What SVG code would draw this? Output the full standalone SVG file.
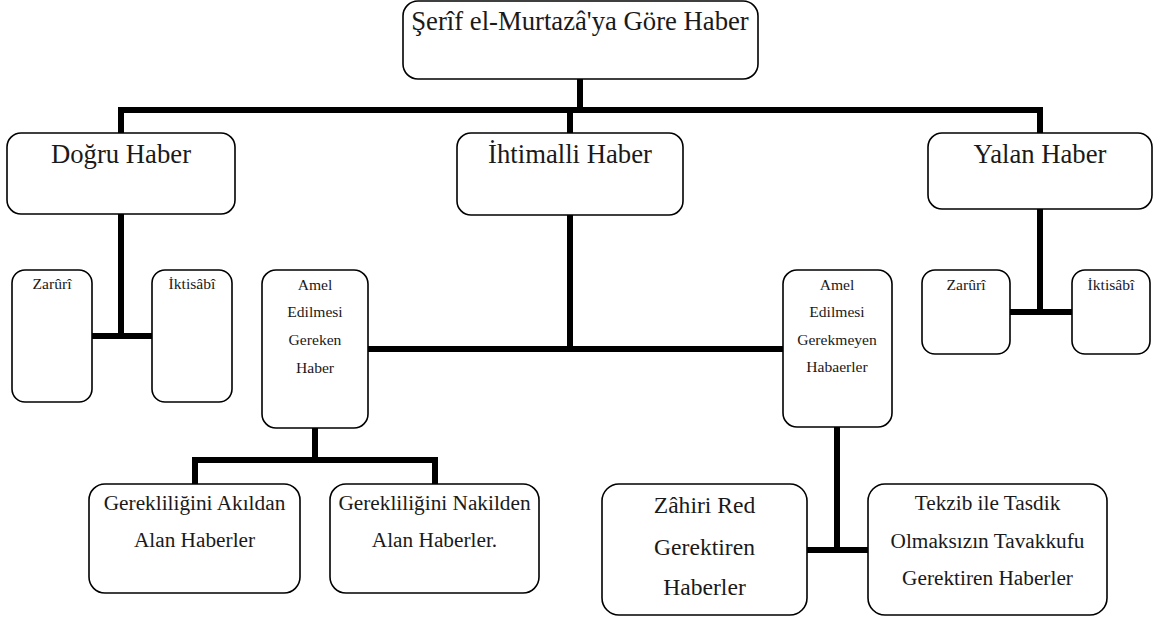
<svg xmlns="http://www.w3.org/2000/svg" width="1158" height="620" viewBox="0 0 1158 620">
<style>
.box{fill:#fff;stroke:#000;stroke-width:1.6}
.t{font-family:'Liberation Serif','DejaVu Serif',serif;fill:#1a1a1a;text-anchor:middle}
.xl{font-size:26.7px}
.l{font-size:23.6px}
.m{font-size:21.3px}
.s{font-size:15.6px}
.c{fill:none;stroke:#000;stroke-width:6;stroke-linejoin:miter;stroke-linecap:butt}
</style>
<rect width="1158" height="620" fill="#fff"/>
<g id="connectors">
<path class="c" d="M580,79 V110"/>
<path class="c" d="M121,133 V110 H1040 V133"/>
<path class="c" d="M570,110 V133"/>
<path class="c" d="M121,214 V336"/>
<path class="c" d="M92,336 H152"/>
<path class="c" d="M1040,209 V312"/>
<path class="c" d="M1010,312 H1072"/>
<path class="c" d="M570,215 V349"/>
<path class="c" d="M368,349 H783"/>
<path class="c" d="M315,428 V460"/>
<path class="c" d="M195,484 V460 H435 V484"/>
<path class="c" d="M837,427 V550"/>
<path class="c" d="M807,550 H868"/>
</g>
<g id="root">
<rect class="box" x="403" y="1" width="355" height="78" rx="15"/>
<text class="t xl" x="580" y="30">Şerîf el-Murtazâ'ya Göre Haber</text>
</g>
<g id="dogru">
<rect class="box" x="7" y="133" width="228" height="81" rx="14"/>
<text class="t xl" x="121" y="163">Doğru Haber</text>
</g>
<g id="ihtimalli">
<rect class="box" x="457" y="133" width="226" height="82" rx="14"/>
<text class="t xl" x="570" y="163">İhtimalli Haber</text>
</g>
<g id="yalan">
<rect class="box" x="928" y="133" width="224" height="76" rx="14"/>
<text class="t xl" x="1040" y="163">Yalan Haber</text>
</g>
<g id="dogru-zaruri">
<rect class="box" x="12" y="270" width="80" height="132" rx="13"/>
<text class="t s" x="52" y="289">Zarûrî</text>
</g>
<g id="dogru-iktisabi">
<rect class="box" x="152" y="270" width="80" height="132" rx="13"/>
<text class="t s" x="192" y="289">İktisâbî</text>
</g>
<g id="yalan-zaruri">
<rect class="box" x="922" y="270" width="88" height="84" rx="13"/>
<text class="t s" x="966" y="290">Zarûrî</text>
</g>
<g id="yalan-iktisabi">
<rect class="box" x="1072" y="270" width="78" height="84" rx="13"/>
<text class="t s" x="1111" y="290">İktisâbî</text>
</g>
<g id="amel-gereken">
<rect class="box" x="262" y="270" width="106" height="158" rx="14"/>
<text class="t s" x="315" y="290">Amel</text>
<text class="t s" x="315" y="317">Edilmesi</text>
<text class="t s" x="315" y="345">Gereken</text>
<text class="t s" x="315" y="373">Haber</text>
</g>
<g id="amel-gerekmeyen">
<rect class="box" x="783" y="270" width="109" height="157" rx="14"/>
<text class="t s" x="837" y="290">Amel</text>
<text class="t s" x="837" y="317">Edilmesi</text>
<text class="t s" x="837" y="345">Gerekmeyen</text>
<text class="t s" x="837" y="372">Habaerler</text>
</g>
<g id="akildan">
<rect class="box" x="89" y="484" width="211" height="109" rx="16"/>
<text class="t m" x="194.5" y="510">Gerekliliğini Akıldan</text>
<text class="t m" x="194.5" y="547">Alan Haberler</text>
</g>
<g id="nakilden">
<rect class="box" x="330" y="484" width="209" height="109" rx="16"/>
<text class="t m" x="434.5" y="510">Gerekliliğini Nakilden</text>
<text class="t m" x="434.5" y="547">Alan Haberler.</text>
</g>
<g id="zahiri">
<rect class="box" x="602" y="484" width="205" height="131" rx="17"/>
<text class="t l" x="704.5" y="513">Zâhiri Red</text>
<text class="t l" x="704.5" y="555">Gerektiren</text>
<text class="t l" x="704.5" y="595">Haberler</text>
</g>
<g id="tekzib">
<rect class="box" x="868" y="484" width="239" height="131" rx="17"/>
<text class="t m" x="987.5" y="510">Tekzib ile Tasdik</text>
<text class="t m" x="987.5" y="548">Olmaksızın Tavakkufu</text>
<text class="t m" x="987.5" y="585">Gerektiren Haberler</text>
</g>
</svg>
